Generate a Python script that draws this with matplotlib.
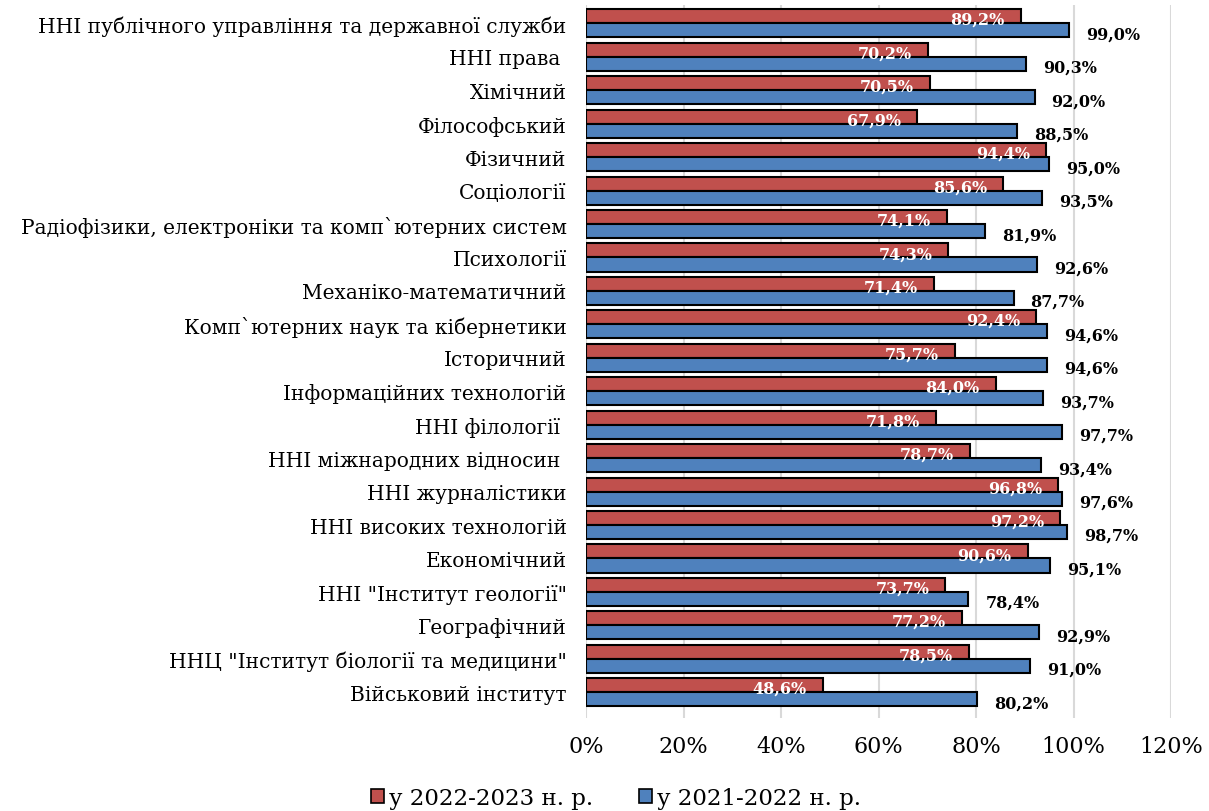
import matplotlib
matplotlib.use('Agg')
import matplotlib.pyplot as plt
import numpy as np
from matplotlib.patches import Patch

categories = [
    'ННІ публічного управління та державної служби',
    'ННІ права ',
    'Хімічний',
    'Філософський',
    'Фізичний',
    'Соціології',
    'Радіофізики, електроніки та комп`ютерних систем',
    'Психології',
    'Механіко-математичний',
    'Комп`ютерних наук та кібернетики',
    'Історичний',
    'Інформаційних технологій',
    'ННІ філології ',
    'ННІ міжнародних відносин ',
    'ННІ журналістики',
    'ННІ високих технологій',
    'Економічний',
    'ННІ "Інститут геології"',
    'Географічний',
    'ННЦ "Інститут біології та медицини"',
    'Військовий інститут',
]
y2022_2023 = [89.2, 70.2, 70.5, 67.9, 94.4, 85.6, 74.1, 74.3, 71.4, 92.4, 75.7,
              84.0, 71.8, 78.7, 96.8, 97.2, 90.6, 73.7, 77.2, 78.5, 48.6]
y2021_2022 = [99.0, 90.3, 92.0, 88.5, 95.0, 93.5, 81.9, 92.6, 87.7, 94.6, 94.6,
              93.7, 97.7, 93.4, 97.6, 98.7, 95.1, 78.4, 92.9, 91.0, 80.2]
series_names = ['у 2022-2023 н. р.', 'у 2021-2022 н. р.']
xticks = [0, 20, 40, 60, 80, 100, 120]

RED = '#C0504D'
BLUE = '#4F81BD'
SERIF = 'DejaVu Serif'


def pct(v):
    return f'{v:.1f}%'.replace('.', ',')


fig = plt.figure(figsize=(12.09, 8.12), dpi=100)
# axes placed in pixel terms of the 1209x812 reference
ax = fig.add_axes([586 / 1209, 1 - 719 / 812, 585 / 1209, 713 / 812])

y = np.arange(len(categories))
h = 0.42
ax.barh(y - h / 2, y2022_2023, height=h, color=RED, edgecolor='black', linewidth=1.5, zorder=3)
ax.barh(y + h / 2, y2021_2022, height=h, color=BLUE, edgecolor='black', linewidth=1.5, zorder=3)

for yi, v in zip(y, y2022_2023):
    ax.text(v - 3.3, yi + 0.02, pct(v), ha='right', va='baseline',
            color='white', fontsize=11.5, fontweight='bold', family=SERIF, zorder=4)
for yi, v in zip(y, y2021_2022):
    ax.text(v + 3.5, yi + h + 0.03, pct(v), ha='left', va='baseline',
            color='black', fontsize=11.5, fontweight='bold', family=SERIF, zorder=4)

ax.set_xlim(0, 120)
ax.set_ylim(20.77, -0.55)
ax.set_xticks(xticks)
ax.set_xticklabels([f'{t}%' for t in xticks], family=SERIF, fontsize=16)
ax.set_yticks(y)
ax.set_yticklabels(categories, family=SERIF, fontsize=14.5)
ax.tick_params(axis='both', length=0)
ax.tick_params(axis='x', pad=12)
ax.tick_params(axis='y', pad=14)
ax.grid(axis='x', color='#D9D9D9', linewidth=1.5, zorder=0)
for s in ax.spines.values():
    s.set_visible(False)

handles = [Patch(facecolor=RED, edgecolor='black', linewidth=1.2),
           Patch(facecolor=BLUE, edgecolor='black', linewidth=1.2)]
fig.legend(handles, series_names, loc='center', bbox_to_anchor=(616 / 1209, 1 - 799 / 812), ncol=2,
           frameon=False, prop={'family': SERIF, 'size': 16.5}, handlelength=0.57, handleheight=0.57,
           handletextpad=0.22, columnspacing=2.0, borderpad=0, borderaxespad=0)

fig.savefig('out.png', dpi=100)
